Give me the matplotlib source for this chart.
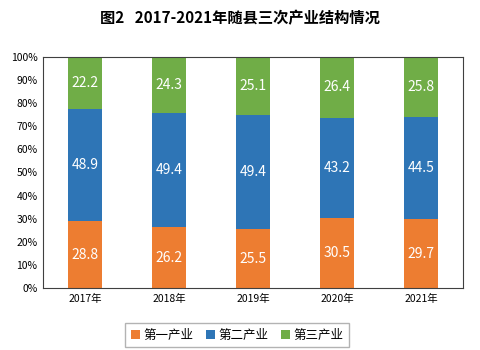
import matplotlib
matplotlib.use('Agg')
import matplotlib.pyplot as plt
import numpy as np

plt.rcParams['font.family'] = ['Noto Sans CJK SC', 'DejaVu Sans']

# donnees
annees = ['2017年', '2018年', '2019年', '2020年', '2021年']
primaire = [28.8, 26.2, 25.5, 30.5, 29.7]
secondaire = [48.9, 49.4, 49.4, 43.2, 44.5]
tertiaire = [22.2, 24.3, 25.1, 26.4, 25.8]
noms = ['第一产业', '第二产业', '第三产业']
couleurs = ['#ED7D31', '#2E75B6', '#70AD47']

fig = plt.figure(figsize=(4.8, 3.5), dpi=100)
ax = fig.add_axes([43/480, 1-288/350, 420/480, 231/350])

x = np.arange(len(annees))
bas = np.zeros(len(annees))
for vals, nom, c in zip([primaire, secondaire, tertiaire], noms, couleurs):
    vals = np.array(vals)
    ax.bar(x, vals, 0.4, bottom=bas, color=c, label=nom, zorder=2)
    for xi, b, v in zip(x, bas, vals):
        ax.text(xi, b + v/2, '%.1f' % v, ha='center', va='center',
                color='white', fontsize=10)
    bas = bas + vals

ax.set_xlim(-0.5, 4.5)
ax.set_ylim(0, 100)
ax.set_yticks(np.arange(0, 101, 10))
ax.set_yticklabels(['%d%%' % t for t in range(0, 101, 10)], fontsize=7.5)
ax.set_xticks(x)
ax.set_xticklabels(annees, fontsize=7.5)
ax.tick_params(length=0, pad=4)
for s in ax.spines.values():
    s.set_color('#404040')
    s.set_linewidth(0.8)

fig.text(0.5, 1-18/350, '图2   2017-2021年随县三次产业结构情况', ha='center',
         va='center', fontsize=11, fontweight='bold')

fig.legend(loc='center', bbox_to_anchor=(237/480, 1-335/350), ncol=3,
           fontsize=9, frameon=True, fancybox=False, edgecolor='#A0A0A0',
           handlelength=0.7, handleheight=0.7, handletextpad=0.3,
           columnspacing=1.0, borderpad=0.45)

fig.savefig('out.png', dpi=100)
